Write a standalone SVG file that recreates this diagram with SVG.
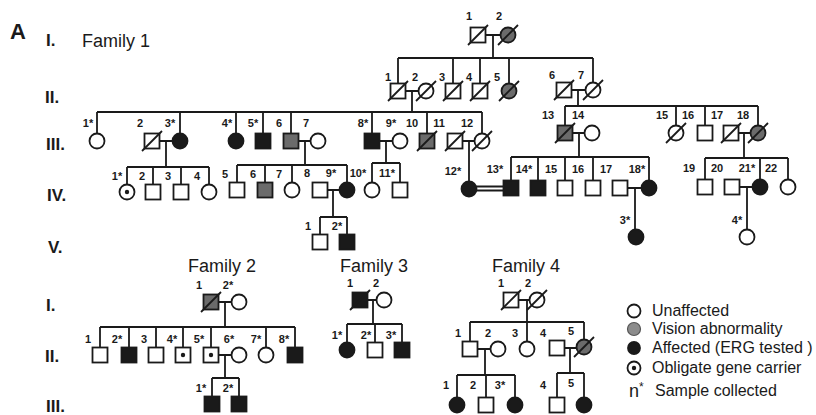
<svg xmlns="http://www.w3.org/2000/svg" width="816" height="415" viewBox="0 0 816 415">
<style>
.l{stroke:#1a1a1a;stroke-width:1.8;fill:none}
.o{fill:#fff;stroke:#1a1a1a;stroke-width:1.8}
.k{fill:#1a1a1a;stroke:#1a1a1a;stroke-width:1.8}
.v{fill:#6b6b6b;stroke:#1a1a1a;stroke-width:1.8}
.vl{fill:#8c8c8c;stroke:#555;stroke-width:1.2}
.d{fill:#1a1a1a}
text{font-family:"Liberation Sans",Arial,sans-serif;fill:#1a1a1a}
.n{font-size:11px;font-weight:bold;text-anchor:middle}
.g{font-size:17px;font-weight:bold}
.t{font-size:18px;text-anchor:middle}
.lg{font-size:16px}
</style>
<rect width="816" height="415" fill="#fff"/>
<text x="10" y="39" style="font-size:22px;font-weight:bold">A</text>
<text class="g" x="46" y="46">I.</text>
<text x="82" y="47" style="font-size:18px">Family 1</text>
<text class="g" x="45" y="103">II.</text>
<text class="g" x="46" y="150">III.</text>
<text class="g" x="47" y="201">IV.</text>
<text class="g" x="48" y="253">V.</text>
<text class="g" x="46" y="311">I.</text>
<text class="g" x="45" y="362">II.</text>
<text class="g" x="46" y="412">III.</text>
<text class="t" x="222" y="272">Family 2</text>
<text class="t" x="374" y="272">Family 3</text>
<text class="t" x="526" y="272">Family 4</text>

<g id="connectors" class="l">
<!-- Family 1 -->
<path d="M485.5 35H500.5M493 35V58M398 58H593M398 58V83.5M453 58V83.5M480 58V83.5M509 58V83.5M593 58V82.5"/>
<path d="M405.5 91H418.5M412 91V112M97 112H482M97 112V133.5M180 112V133.5M236 112V133.5M263 112V133.5M291 112V133.5M372 112V133.5M427 112V133.5M482 112V133.5"/>
<path d="M571.5 90H585.5M578 90V106M565 106H758M565 106V125.5M676 106V125.5M705 106V125.5M758 106V125.5"/>
<path d="M159.5 141H172.5M166 141V167M127 167H209M127 167V184.5M153 167V184.5M181 167V184.5M209 167V184.5"/>
<path d="M298.5 141H310.5M305 141V165M237 165H347M237 165V182.5M265 165V182.5M292 165V182.5M347 165V182.5"/>
<path d="M327.5 190H339.5M333 190V217M320 217H347M320 217V234.5M347 217V234.5"/>
<path d="M379.5 141H392.5M386 141V163M372 163H400M372 163V182.5M400 163V182.5"/>
<path d="M462.5 141H474.5M469 141V181.5"/>
<path d="M476.5 186.5H503.5M476.5 190.5H503.5"/>
<path d="M572.5 133H584.5M579 133V157M511 157H649M511 157V180.5M538 157V180.5M565 157V180.5M593 157V180.5M649 157V180.5"/>
<path d="M627.5 188H641.5M635 188V229.5"/>
<path d="M738.5 133H750.5M744 133V158M705 158H788M705 158V179.5M760 158V179.5M788 158V179.5"/>
<path d="M739.5 187H752.5M747 187V229.5"/>
<!-- Family 2 -->
<path d="M218.5 302H231.5M225 302V327M100 327H295M100 327V347.5M129 327V347.5M156 327V347.5M183 327V347.5M211 327V347.5M266 327V347.5M295 327V347.5"/>
<path d="M218.5 355H231.5M225 355V378M212 378H239M212 378V396.5M239 378V396.5"/>
<!-- Family 3 -->
<path d="M367.5 300H376.5M373 300V324M347 324H402M347 324V342.5M375 324V342.5M402 324V342.5"/>
<!-- Family 4 -->
<path d="M518.5 300H529.5M527 300V322M470 322H584M470 322V341.5M527 322V341.5M584 322V339.5"/>
<path d="M477.5 349H490.5M485 349V375M457 375H515M457 375V397.5M486 375V397.5M515 375V397.5"/>
<path d="M564.5 348H576.5M570 348V373M557 373H584M557 373V397.5M584 373V397.5"/>
</g>

<!-- Family 1 Gen I -->
<g id="f1-I-1"><rect class="o" x="470.5" y="27.5" width="15" height="15"/><line class="l" x1="468" y1="45" x2="488" y2="25"/><text class="n" x="469" y="20">1</text></g>
<g id="f1-I-2"><circle class="v" cx="508" cy="35" r="7.5"/><line class="l" x1="498" y1="45" x2="518" y2="25"/><text class="n" x="499" y="20">2</text></g>

<!-- Gen II -->
<g id="f1-II-1"><rect class="o" x="390.5" y="83.5" width="15" height="15"/><line class="l" x1="388" y1="101" x2="408" y2="81"/><text class="n" x="388" y="81">1</text></g>
<g id="f1-II-2"><circle class="o" cx="426" cy="91" r="7.5"/><line class="l" x1="416" y1="101" x2="436" y2="81"/><text class="n" x="415" y="81">2</text></g>
<g id="f1-II-3"><rect class="o" x="445.5" y="83.5" width="15" height="15"/><line class="l" x1="443" y1="101" x2="463" y2="81"/><text class="n" x="442" y="81">3</text></g>
<g id="f1-II-4"><rect class="o" x="472.5" y="83.5" width="15" height="15"/><line class="l" x1="470" y1="101" x2="490" y2="81"/><text class="n" x="469" y="81">4</text></g>
<g id="f1-II-5"><circle class="v" cx="509" cy="91" r="7.5"/><line class="l" x1="499" y1="101" x2="519" y2="81"/><text class="n" x="497" y="81">5</text></g>
<g id="f1-II-6"><rect class="o" x="556.5" y="82.5" width="15" height="15"/><line class="l" x1="554" y1="100" x2="574" y2="80"/><text class="n" x="552" y="79">6</text></g>
<g id="f1-II-7"><circle class="o" cx="593" cy="90" r="7.5"/><line class="l" x1="583" y1="100" x2="603" y2="80"/><text class="n" x="581" y="79">7</text></g>

<!-- Gen III -->
<g id="f1-III-1"><circle class="o" cx="97" cy="141" r="7.5"/><text class="n" x="88" y="127">1*</text></g>
<g id="f1-III-2"><rect class="o" x="144.5" y="133.5" width="15" height="15"/><line class="l" x1="142" y1="151" x2="162" y2="131"/><text class="n" x="140" y="127">2</text></g>
<g id="f1-III-3"><circle class="k" cx="180" cy="141" r="7.5"/><text class="n" x="170" y="127">3*</text></g>
<g id="f1-III-4"><circle class="k" cx="236" cy="141" r="7.5"/><text class="n" x="227" y="127">4*</text></g>
<g id="f1-III-5"><rect class="k" x="255.5" y="133.5" width="15" height="15"/><text class="n" x="253" y="127">5*</text></g>
<g id="f1-III-6"><rect class="v" x="283.5" y="133.5" width="15" height="15"/><text class="n" x="279" y="127">6</text></g>
<g id="f1-III-7"><circle class="o" cx="318" cy="141" r="7.5"/><text class="n" x="306" y="127">7</text></g>
<g id="f1-III-8"><rect class="k" x="364.5" y="133.5" width="15" height="15"/><text class="n" x="363" y="127">8*</text></g>
<g id="f1-III-9"><circle class="o" cx="400" cy="141" r="7.5"/><text class="n" x="391" y="127">9*</text></g>
<g id="f1-III-10"><rect class="v" x="419.5" y="133.5" width="15" height="15"/><line class="l" x1="417" y1="151" x2="437" y2="131"/><text class="n" x="412" y="127">10</text></g>
<g id="f1-III-11"><rect class="o" x="447.5" y="133.5" width="15" height="15"/><line class="l" x1="445" y1="151" x2="465" y2="131"/><text class="n" x="439" y="127">11</text></g>
<g id="f1-III-12"><circle class="o" cx="482" cy="141" r="7.5"/><line class="l" x1="472" y1="151" x2="492" y2="131"/><text class="n" x="467" y="127">12</text></g>
<g id="f1-III-13"><rect class="v" x="557.5" y="125.5" width="15" height="15"/><line class="l" x1="555" y1="143" x2="575" y2="123"/><text class="n" x="548" y="119">13</text></g>
<g id="f1-III-14"><circle class="o" cx="592" cy="133" r="7.5"/><text class="n" x="578" y="119">14</text></g>
<g id="f1-III-15"><circle class="o" cx="676" cy="133" r="7.5"/><line class="l" x1="666" y1="143" x2="686" y2="123"/><text class="n" x="662" y="119">15</text></g>
<g id="f1-III-16"><rect class="o" x="697.5" y="125.5" width="15" height="15"/><text class="n" x="688" y="119">16</text></g>
<g id="f1-III-17"><rect class="o" x="723.5" y="125.5" width="15" height="15"/><line class="l" x1="721" y1="143" x2="741" y2="123"/><text class="n" x="717" y="119">17</text></g>
<g id="f1-III-18"><circle class="v" cx="758" cy="133" r="7.5"/><line class="l" x1="748" y1="143" x2="768" y2="123"/><text class="n" x="743" y="119">18</text></g>

<!-- Gen IV -->
<g id="f1-IV-1"><circle class="o" cx="127" cy="192" r="7.5"/><circle class="d" cx="127" cy="192" r="2.2"/><text class="n" x="117" y="180">1*</text></g>
<g id="f1-IV-2"><rect class="o" x="145.5" y="184.5" width="15" height="15"/><text class="n" x="142" y="180">2</text></g>
<g id="f1-IV-3"><rect class="o" x="173.5" y="184.5" width="15" height="15"/><text class="n" x="168" y="180">3</text></g>
<g id="f1-IV-4"><circle class="o" cx="209" cy="192" r="7.5"/><text class="n" x="197" y="180">4</text></g>
<g id="f1-IV-5"><rect class="o" x="229.5" y="182.5" width="15" height="15"/><text class="n" x="225" y="178">5</text></g>
<g id="f1-IV-6"><rect class="v" x="257.5" y="182.5" width="15" height="15"/><text class="n" x="253" y="178">6</text></g>
<g id="f1-IV-7"><circle class="o" cx="292" cy="190" r="7.5"/><text class="n" x="279" y="178">7</text></g>
<g id="f1-IV-8"><rect class="o" x="312.5" y="182.5" width="15" height="15"/><text class="n" x="307" y="177">8</text></g>
<g id="f1-IV-9"><circle class="k" cx="347" cy="190" r="7.5"/><text class="n" x="331" y="177">9*</text></g>
<g id="f1-IV-10"><circle class="o" cx="372" cy="190" r="7.5"/><text class="n" x="358" y="177">10*</text></g>
<g id="f1-IV-11"><rect class="o" x="392.5" y="182.5" width="15" height="15"/><text class="n" x="387" y="177">11*</text></g>
<g id="f1-IV-12"><circle class="k" cx="469" cy="189" r="7.5"/><text class="n" x="453" y="175">12*</text></g>
<g id="f1-IV-13"><rect class="k" x="503.5" y="180.5" width="15" height="15"/><text class="n" x="495" y="173">13*</text></g>
<g id="f1-IV-14"><rect class="k" x="530.5" y="180.5" width="15" height="15"/><text class="n" x="524" y="173">14*</text></g>
<g id="f1-IV-15"><rect class="o" x="557.5" y="180.5" width="15" height="15"/><text class="n" x="551" y="173">15</text></g>
<g id="f1-IV-16"><rect class="o" x="585.5" y="180.5" width="15" height="15"/><text class="n" x="578" y="173">16</text></g>
<g id="f1-IV-17"><rect class="o" x="612.5" y="180.5" width="15" height="15"/><text class="n" x="606" y="173">17</text></g>
<g id="f1-IV-18"><circle class="k" cx="649" cy="188" r="7.5"/><text class="n" x="637" y="173">18*</text></g>
<g id="f1-IV-19"><rect class="o" x="697.5" y="179.5" width="15" height="15"/><text class="n" x="689" y="172">19</text></g>
<g id="f1-IV-20"><rect class="o" x="724.5" y="179.5" width="15" height="15"/><text class="n" x="717" y="172">20</text></g>
<g id="f1-IV-21"><circle class="k" cx="760" cy="187" r="7.5"/><text class="n" x="747" y="172">21*</text></g>
<g id="f1-IV-22"><circle class="o" cx="788" cy="187" r="7.5"/><text class="n" x="771" y="172">22</text></g>

<!-- Gen V -->
<g id="f1-V-1"><rect class="o" x="312.5" y="234.5" width="15" height="15"/><text class="n" x="308" y="230">1</text></g>
<g id="f1-V-2"><rect class="k" x="339.5" y="234.5" width="15" height="15"/><text class="n" x="337" y="230">2*</text></g>
<g id="f1-V-3"><circle class="k" cx="636" cy="237" r="7.5"/><text class="n" x="625" y="224">3*</text></g>
<g id="f1-V-4"><circle class="o" cx="747" cy="237" r="7.5"/><text class="n" x="737" y="224">4*</text></g>

<!-- Family 2 -->
<g id="f2-I-1"><rect class="v" x="203.5" y="294.5" width="15" height="15"/><line class="l" x1="201" y1="312" x2="221" y2="292"/><text class="n" x="199" y="289">1</text></g>
<g id="f2-I-2"><circle class="o" cx="239" cy="302" r="7.5"/><text class="n" x="228" y="289">2*</text></g>
<g id="f2-II-1"><rect class="o" x="92.5" y="347.5" width="15" height="15"/><text class="n" x="88" y="343">1</text></g>
<g id="f2-II-2"><rect class="k" x="121.5" y="347.5" width="15" height="15"/><text class="n" x="117" y="343">2*</text></g>
<g id="f2-II-3"><rect class="o" x="148.5" y="347.5" width="15" height="15"/><text class="n" x="144" y="343">3</text></g>
<g id="f2-II-4"><rect class="o" x="175.5" y="347.5" width="15" height="15"/><circle class="d" cx="183" cy="355" r="2.2"/><text class="n" x="172" y="343">4*</text></g>
<g id="f2-II-5"><rect class="o" x="203.5" y="347.5" width="15" height="15"/><circle class="d" cx="211" cy="355" r="2.2"/><text class="n" x="199" y="343">5*</text></g>
<g id="f2-II-6"><circle class="o" cx="239" cy="355" r="7.5"/><text class="n" x="229" y="343">6*</text></g>
<g id="f2-II-7"><circle class="o" cx="266" cy="355" r="7.5"/><text class="n" x="256" y="343">7*</text></g>
<g id="f2-II-8"><rect class="k" x="287.5" y="347.5" width="15" height="15"/><text class="n" x="284" y="343">8*</text></g>
<g id="f2-III-1"><rect class="k" x="204.5" y="396.5" width="15" height="15"/><text class="n" x="201" y="392">1*</text></g>
<g id="f2-III-2"><rect class="k" x="231.5" y="396.5" width="15" height="15"/><text class="n" x="228" y="392">2*</text></g>

<!-- Family 3 -->
<g id="f3-I-1"><rect class="k" x="352.5" y="292.5" width="15" height="15"/><line class="l" x1="350" y1="310" x2="370" y2="290"/><text class="n" x="350" y="287">1</text></g>
<g id="f3-I-2"><circle class="o" cx="384" cy="300" r="7.5"/><text class="n" x="376" y="287">2</text></g>
<g id="f3-II-1"><circle class="k" cx="347" cy="350" r="7.5"/><text class="n" x="337" y="339">1*</text></g>
<g id="f3-II-2"><rect class="o" x="367.5" y="342.5" width="15" height="15"/><text class="n" x="366" y="339">2*</text></g>
<g id="f3-II-3"><rect class="k" x="394.5" y="342.5" width="15" height="15"/><text class="n" x="391" y="339">3*</text></g>

<!-- Family 4 -->
<g id="f4-I-1"><rect class="o" x="503.5" y="292.5" width="15" height="15"/><line class="l" x1="501" y1="310" x2="521" y2="290"/><text class="n" x="501" y="287">1</text></g>
<g id="f4-I-2"><circle class="o" cx="537" cy="300" r="7.5"/><line class="l" x1="527" y1="310" x2="547" y2="290"/><text class="n" x="528" y="287">2</text></g>
<g id="f4-II-1"><rect class="o" x="462.5" y="341.5" width="15" height="15"/><text class="n" x="458" y="337">1</text></g>
<g id="f4-II-2"><circle class="o" cx="498" cy="349" r="7.5"/><text class="n" x="488" y="337">2</text></g>
<g id="f4-II-3"><circle class="o" cx="527" cy="349" r="7.5"/><text class="n" x="515" y="337">3</text></g>
<g id="f4-II-4"><rect class="o" x="549.5" y="340.5" width="15" height="15"/><text class="n" x="543" y="337">4</text></g>
<g id="f4-II-5"><circle class="v" cx="584" cy="347" r="7.5"/><line class="l" x1="574" y1="357" x2="594" y2="337"/><text class="n" x="571" y="335">5</text></g>
<g id="f4-III-1"><circle class="k" cx="457" cy="405" r="7.5"/><text class="n" x="446" y="389">1</text></g>
<g id="f4-III-2"><rect class="o" x="478.5" y="397.5" width="15" height="15"/><text class="n" x="473" y="389">2</text></g>
<g id="f4-III-3"><circle class="k" cx="515" cy="405" r="7.5"/><text class="n" x="500" y="389">3*</text></g>
<g id="f4-III-4"><rect class="o" x="549.5" y="397.5" width="15" height="15"/><text class="n" x="543" y="389">4</text></g>
<g id="f4-III-5"><circle class="k" cx="584" cy="405" r="7.5"/><text class="n" x="571" y="387">5</text></g>

<!-- Legend -->
<g id="legend">
<circle class="o" cx="634" cy="311" r="6.5"/><text class="lg" x="652" y="316">Unaffected</text>
<circle class="vl" cx="634" cy="329" r="6.5"/><text class="lg" x="652" y="334">Vision abnormality</text>
<circle class="k" cx="634" cy="348" r="6"/><text class="lg" x="652" y="353">Affected (ERG tested )</text>
<circle class="o" cx="634" cy="368" r="6.5"/><circle class="d" cx="634" cy="368" r="2.2"/><text class="lg" x="652" y="373">Obligate gene carrier</text>
<text x="629" y="397" style="font-size:18px">n<tspan dy="-6" style="font-size:12px">*</tspan></text><text class="lg" x="655" y="396">Sample collected</text>
</g>
</svg>
